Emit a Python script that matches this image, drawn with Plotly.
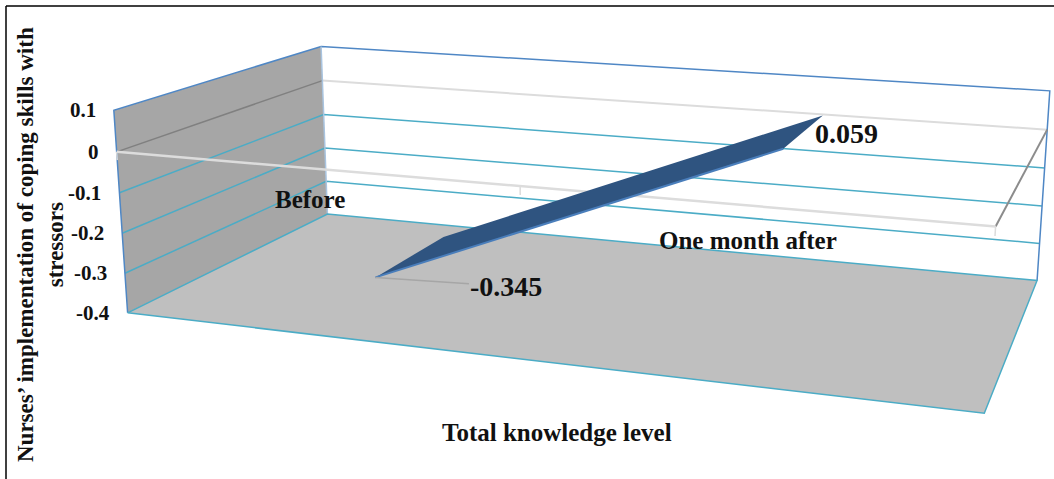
import numpy as np
import plotly.graph_objects as go

W, H = 1054, 479

# Data
categories = ["Before", "One month after"]
values = [-0.345, 0.059]
tick_values = [0.1, 0, -0.1, -0.2, -0.3, -0.4]
tick_labels = ["0.1", "0", "-0.1", "-0.2", "-0.3", "-0.4"]
x_title = "Total knowledge level"
y_title = "Nurses’ implementation of coping skills with<br>stressors"

# Perspective view: (category position 0-1, depth 0-1, value) -> figure pixels
VIEW = np.array([
    [728.2968, 277.7621, -35.05442, 116.6528],
    [40.35199, -53.21737, -421.1202, 151.8491],
    [-0.1513181, 0.2234242, -0.05995181, 1.0],
])

def view(x, d, z):
    h = VIEW @ np.array([x, d, z, 1.0])
    return h[0] / h[2], h[1] / h[2]

fig = go.Figure()

def poly(pts, color):
    xy = [view(*p) for p in pts]
    fig.add_trace(go.Scatter(x=[a for a, b in xy], y=[b for a, b in xy], mode="lines",
                             fill="toself", fillcolor=color, line=dict(width=0), hoverinfo="skip"))

def line(pts, color, w=1.5):
    xy = [view(*p) for p in pts]
    fig.add_trace(go.Scatter(x=[a for a, b in xy], y=[b for a, b in xy], mode="lines",
                             line=dict(color=color, width=w), hoverinfo="skip"))

lo, hi = min(tick_values), max(tick_values)
GRID, EDGE, ZERO = "#4bacc6", "#4f87c5", "#dcdcdc"

# Side wall and floor
poly([(0, 0, lo), (0, 1, lo), (0, 1, hi), (0, 0, hi)], "#a6a6a6")
poly([(0, 0, lo), (1, 0, lo), (1, 1, lo), (0, 1, lo)], "#bfbfbf")

# Value gridlines run along the side wall and then the back wall
for t in tick_values:
    if t in (hi, lo, 0):
        continue
    line([(0, 0, t), (0, 1, t), (1, 1, t)], GRID)
line([(0, 0, 0), (0, 1, 0)], "#808080")
line([(0, 1, 0), (1, 1, 0)], ZERO, 2)

# Box outline
line([(0, 0, lo), (0, 0, hi), (0, 1, hi), (1, 1, hi), (1, 1, lo)], EDGE, 1.5)
line([(0, 1, hi), (0, 1, lo)], "#a9c4e0", 1.5)
line([(0, 0, lo), (1, 0, lo), (1, 1, lo), (0, 1, lo), (0, 0, lo)], GRID, 1.5)

# Category axis in the zero plane, with its tick marks
line([(1, 0, 0), (1, 1, 0)], "#8c8c8c", 2)
line([(0, 0, 0), (1, 0, 0)], ZERO, 2.5)
for x in (0, 0.5, 1):
    line([(x, 0, 0), (x, 0, -0.02)], ZERO, 1.5)

# The series ribbon, centred in its depth band
cat_x = [(i + 0.5) / len(categories) for i in range(len(categories))]
d0, d1 = 0.3, 0.7
poly([(cat_x[0], d0, values[0]), (cat_x[0], d1, values[0]),
      (cat_x[1], d1, values[1]), (cat_x[1], d0, values[1])], "#2f5480")
line([(cat_x[0], d0, values[0]), (cat_x[1], d0, values[1])], "#4a7ebb", 2)

bold = dict(family="Liberation Serif", color="#111111")
ann = []
for t, label in zip(tick_values, tick_labels):
    a, b = view(0, 0, t)
    ann.append(dict(x=a, y=b, text=f"<b>{label}</b>", showarrow=False, xanchor="right",
                    yanchor="middle", xshift=-16, font=dict(bold, size=21)))
for i, c in enumerate(categories):
    a, b = view(cat_x[i], 0, 0)
    ann.append(dict(x=a, y=b, text=f"<b>{c}</b>", showarrow=False, xanchor="center",
                    yanchor="middle", yshift=-31 if i == 0 else -35, font=dict(bold, size=25)))

# Data labels: the first sits at the end of a leader line
a, b = view(cat_x[0], d0, values[0])
ann.append(dict(x=a, y=b, text=f"<b>{values[0]:g}</b>", showarrow=True, arrowhead=0,
                arrowcolor="#a6a6a6", arrowwidth=1.5, ax=131, ay=9, axref="pixel", ayref="pixel",
                font=dict(bold, size=28)))
a, b = view(cat_x[1], d1, values[1])
ann.append(dict(x=a, y=b, text=f"<b>{values[1]:g}</b>", showarrow=False, xanchor="center",
                yanchor="middle", xshift=24, yshift=-18, font=dict(bold, size=28)))

# Axis titles
ann.append(dict(xref="paper", yref="paper", x=557 / W, y=1 - 432 / H, xanchor="center", yanchor="middle",
                text=f"<b>{x_title}</b>", showarrow=False, font=dict(bold, size=25)))
ann.append(dict(xref="paper", yref="paper", x=40 / W, y=1 - 245 / H, xanchor="center", yanchor="middle",
                textangle=-90, text=f"<b>{y_title}</b>", showarrow=False, font=dict(bold, size=23)))

axis = dict(visible=False, fixedrange=True)
frame = dict(color="black", width=1.5)
fig.update_layout(
    width=W, height=H, margin=dict(l=0, r=0, t=0, b=0), showlegend=False,
    plot_bgcolor="white", paper_bgcolor="white", annotations=ann,
    xaxis=dict(axis, range=[0, W]), yaxis=dict(axis, range=[H, 0]),
    shapes=[
        dict(type="line", xref="paper", yref="paper", x0=6 / W, x1=1, y0=1 - 6 / H, y1=1 - 6 / H, line=frame),
        dict(type="line", xref="paper", yref="paper", x0=6 / W, x1=6 / W, y0=0, y1=1 - 6 / H, line=frame),
    ],
)
fig.write_html("out.html")
